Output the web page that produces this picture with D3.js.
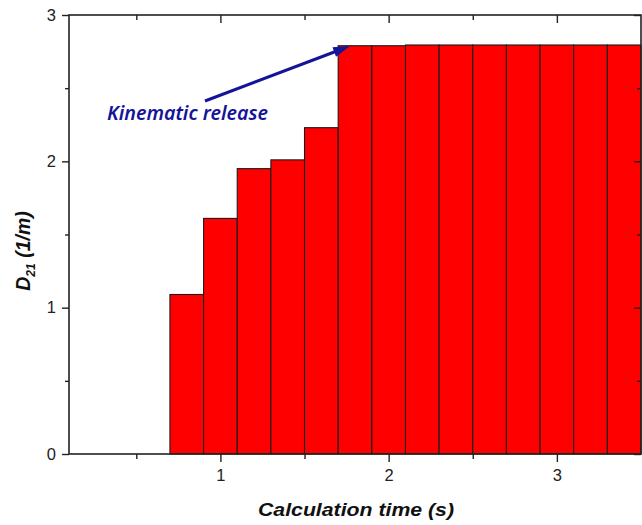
<!DOCTYPE html>
<html>
<head>
<meta charset="utf-8">
<script src="https://cdn.jsdelivr.net/npm/d3@7"></script>
<style>
  html, body { margin: 0; padding: 0; background: #fff; }
  svg { display: block; }
</style>
</head>
<body>
<script>
// ---- data ----
const times = [0.8, 1.0, 1.2, 1.4, 1.6, 1.8, 2.0, 2.2, 2.4, 2.6, 2.8, 3.0, 3.2, 3.4];
const d21 = [1.09, 1.61, 1.95, 2.01, 2.23, 2.79, 2.79, 2.795, 2.795, 2.795, 2.795, 2.795, 2.795, 2.795];
const binWidth = 0.2;
const xMajorTicks = [1, 2, 3];
const xMinorTicks = [0.5, 1.5, 2.5];
const yMajorTicks = [0, 1, 2, 3];
const yMinorTicks = [0.5, 1.5, 2.5];
const xTitle = "Calculation time (s)";
const annotationText = "Kinematic release";

// ---- layout ----
const W = 642, H = 525;
const L = 69, R = 641, T = 15, B = 454;

const svg = d3.select("body").append("svg").attr("width", W).attr("height", H);

const x = d3.scaleLinear().domain([0.1, 3.5]).range([L, R]);
const y = d3.scaleLinear().domain([0, 3]).range([B, T]);

// bars
svg.append("g").selectAll("rect").data(times).join("rect")
  .attr("x", (t) => x(t - binWidth / 2))
  .attr("y", (t, i) => y(d21[i]))
  .attr("width", (t) => x(t + binWidth / 2) - x(t - binWidth / 2))
  .attr("height", (t, i) => y(0) - y(d21[i]))
  .attr("fill", "#ff0000")
  .attr("stroke", "#1a1a1a")
  .attr("stroke-width", 1.1);

const axisColor = "#222";
function styleAxis(g, fs) {
  g.select(".domain").remove();
  g.selectAll("line").attr("stroke", axisColor).attr("stroke-width", 1.4);
  g.selectAll("text").attr("font-family", "Liberation Sans, Arial, sans-serif")
    .attr("font-size", fs).attr("fill", "#222");
}

// bottom axis
svg.append("g").attr("transform", `translate(0,${B})`)
  .call(d3.axisBottom(x).tickValues(xMajorTicks).tickSize(8).tickPadding(7).tickFormat(d3.format("d")))
  .call(g => styleAxis(g, 16.5));
svg.append("g").attr("transform", `translate(0,${B})`)
  .call(d3.axisBottom(x).tickValues(xMinorTicks).tickSize(5).tickFormat(""))
  .call(g => styleAxis(g, 16.5));

// top axis (inward ticks)
svg.append("g").attr("transform", `translate(0,${T})`)
  .call(d3.axisBottom(x).tickValues(xMajorTicks).tickSize(8).tickFormat(""))
  .call(g => styleAxis(g, 16.5));
svg.append("g").attr("transform", `translate(0,${T})`)
  .call(d3.axisBottom(x).tickValues(xMinorTicks).tickSize(5).tickFormat(""))
  .call(g => styleAxis(g, 16.5));

// left axis
svg.append("g").attr("transform", `translate(${L},0)`)
  .call(d3.axisLeft(y).tickValues(yMajorTicks).tickSize(7).tickPadding(6).tickFormat(d3.format("d")))
  .call(g => styleAxis(g, 16.5));
svg.append("g").attr("transform", `translate(${L},0)`)
  .call(d3.axisLeft(y).tickValues(yMinorTicks).tickSize(4).tickFormat(""))
  .call(g => styleAxis(g, 16.5));

// right axis (inward ticks)
svg.append("g").attr("transform", `translate(${R},0)`)
  .call(d3.axisLeft(y).tickValues(yMajorTicks).tickSize(7).tickFormat(""))
  .call(g => styleAxis(g, 16.5));
svg.append("g").attr("transform", `translate(${R},0)`)
  .call(d3.axisLeft(y).tickValues(yMinorTicks).tickSize(4).tickFormat(""))
  .call(g => styleAxis(g, 16.5));

// frame
svg.append("rect").attr("x", L).attr("y", T).attr("width", R - L).attr("height", B - T)
  .attr("fill", "none").attr("stroke", axisColor).attr("stroke-width", 1.6);

// x title
svg.append("text").attr("x", 356).attr("y", 516)
  .attr("text-anchor", "middle")
  .attr("font-family", "Liberation Sans, Arial, sans-serif")
  .attr("font-weight", "bold").attr("font-style", "italic")
  .attr("font-size", 19).attr("fill", "#111")
  .attr("textLength", 196).attr("lengthAdjust", "spacingAndGlyphs")
  .text(xTitle);

// y title
const yt = svg.append("text")
  .attr("transform", `translate(30,251) rotate(-90)`)
  .attr("text-anchor", "middle")
  .attr("font-family", "Liberation Sans, Arial, sans-serif")
  .attr("font-weight", "bold").attr("font-style", "italic")
  .attr("font-size", 19.5).attr("fill", "#111");
yt.append("tspan").text("D");
yt.append("tspan").attr("font-size", 12).attr("dy", 5).text("21");
yt.append("tspan").attr("dy", -5).text(" (1/m)");

// annotation
const navy = "#14149a";
const tipX = x(1.7) + 12, tipY = y(2.795) + 1;
const startX = 205, startY = 101;
svg.append("line")
  .attr("x1", startX).attr("y1", startY)
  .attr("x2", tipX - 8).attr("y2", tipY + 3)
  .attr("stroke", navy).attr("stroke-width", 3);
svg.append("path")
  .attr("d", () => {
    const ang = Math.atan2(tipY - startY, tipX - startX);
    const len = 17, hw = 5;
    const bx = tipX - len * Math.cos(ang), by = tipY - len * Math.sin(ang);
    const px = -Math.sin(ang) * hw, py = Math.cos(ang) * hw;
    return `M${tipX},${tipY} L${bx + px},${by + py} L${bx - px},${by - py} Z`;
  })
  .attr("fill", navy);

svg.append("text").attr("x", 107).attr("y", 120)
  .attr("font-family", "Noto Sans, Open Sans, sans-serif")
  .attr("font-style", "italic").attr("font-weight", 600)
  .attr("font-size", 19.5).attr("fill", navy)
  .attr("textLength", 161).attr("lengthAdjust", "spacingAndGlyphs")
  .text(annotationText);
</script>
</body>
</html>
